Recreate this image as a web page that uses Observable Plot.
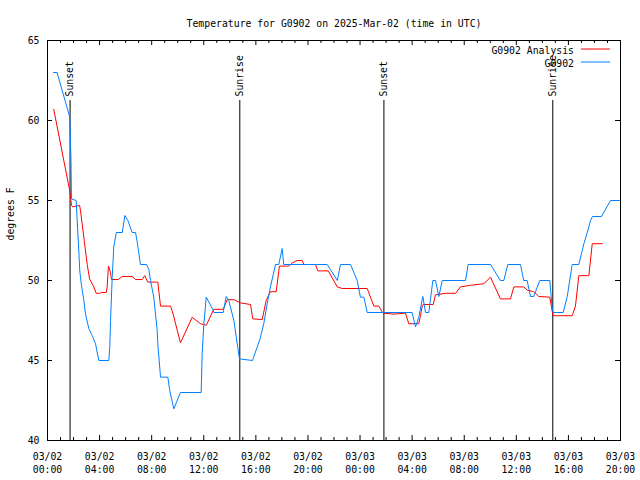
<!DOCTYPE html>
<html><head><meta charset="utf-8">
<script src="https://cdn.jsdelivr.net/npm/d3@7"></script>
<script src="https://cdn.jsdelivr.net/npm/@observablehq/plot@0.6"></script>
<style>body{margin:0;background:#fff}</style>
</head><body><div id="chart"></div>
<script>
const title = "Temperature for G0902 on 2025-Mar-02 (time in UTC)";
const yLabel = "degrees F";
const seriesNames = ["G0902 Analysis", "G0902"];
const seriesColors = ["#ff0000", "#0080ff"];
const startTime = "2025-03-02T00:00:00Z";
const endTime = "2025-03-03T20:00:00Z";
const yTicks = [40, 45, 50, 55, 60, 65];

// hours since start, temperature (F)
const analysisHours = [0.48,1.71,1.84,1.94,2.46,2.53,3.05,3.23,3.56,3.74,4.02,4.15,4.51,4.58,4.68,4.84,4.91,5.43,5.74,6.50,6.76,7.27,7.47,7.70,8.47,8.68,9.45,9.65,10.21,11.11,11.75,12.19,12.77,13.49,13.80,14.31,14.82,15.59,15.76,16.49,16.79,17.12,17.56,17.81,18.53,18.79,19.17,19.56,19.68,20.58,20.76,21.56,22.25,22.63,24.55,25.06,25.44,25.75,26.59,27.49,27.74,28.51,28.64,28.77,28.85,29.62,29.79,30.56,31.33,31.71,32.48,33.50,34.02,34.78,35.55,35.81,36.57,36.83,37.34,37.73,38.57,38.75,38.83,40.29,40.54,40.80,41.57,41.83,42.60];
const analysisTemps = [60.7,55.6,54.7,54.6,54.7,54.4,51.0,50.1,49.6,49.2,49.2,49.25,49.25,49.6,50.9,50.5,50.06,50.06,50.25,50.25,50.06,50.06,50.3,49.9,49.9,48.4,48.4,47.9,46.1,47.7,47.3,47.2,48.2,48.2,48.8,48.8,48.6,48.5,47.6,47.56,48.75,49.3,49.3,50.9,50.9,51.1,51.25,51.25,51.0,51.0,50.6,50.6,49.6,49.5,49.5,48.4,48.4,47.96,47.9,47.96,47.3,47.3,47.8,48.4,48.5,48.5,49.1,49.2,49.2,49.6,49.7,49.8,50.2,48.85,48.85,49.6,49.6,49.4,49.3,49.0,48.96,48.1,47.8,47.8,48.4,50.3,50.3,52.3,52.3];

const obsHours = [0.46,0.74,1.71,1.80,1.84,2.20,2.28,2.40,2.48,2.59,2.79,2.92,3.17,3.43,3.69,3.94,4.71,4.78,4.84,4.97,5.09,5.28,5.74,5.94,6.17,6.50,6.76,6.89,7.14,7.60,7.78,7.91,8.16,8.42,8.47,8.68,9.24,9.39,9.70,10.21,11.80,11.88,12.00,12.19,12.69,12.77,13.49,13.72,13.92,14.31,14.74,15.74,16.30,16.61,16.87,17.12,17.51,17.76,18.02,18.14,21.48,22.25,22.50,23.27,23.78,24.03,24.29,24.55,28.00,28.26,28.51,28.82,29.03,29.28,29.59,29.80,30.05,30.31,32.10,32.30,34.02,34.78,35.04,35.35,36.32,36.57,36.83,37.09,37.34,37.80,38.57,38.75,38.83,39.60,39.91,40.29,40.80,41.19,41.45,41.70,41.85,42.54,43.23,44.0];
const obsTemps = [63,63,60.2,57.6,55.1,55.0,53.75,51.9,50.6,49.8,48.75,47.9,47.0,46.56,46.04,45.0,45.0,45.8,47.5,50.2,52.1,53.0,53.0,54.06,53.75,53.0,53.0,52.4,51.0,51.0,50.7,50.0,48.96,46.9,46.04,43.96,43.96,43.1,41.98,43.0,43.0,45.5,47.2,48.96,48.2,48.0,48.0,49.0,48.75,47.5,45.1,45.0,46.3,47.3,48.56,49.6,51.0,51.0,52.0,51.0,51.0,50.0,51.0,51.0,50.0,48.96,48.96,48.0,48.0,47.1,47.7,49.0,48.0,48.0,50.0,50.0,49.0,50.0,50.0,51.0,51.0,50.0,50.0,51.0,51.0,50.0,50.0,49.0,49.0,50.0,50.0,48.3,48.0,48.0,49.0,51.0,51.0,52.3,53.0,53.75,54.0,54.0,55.0,55.0];

const sunEvents = ["Sunset", "Sunrise", "Sunset", "Sunrise"];
const sunTimes = ["2025-03-02T01:44:00Z", "2025-03-02T14:46:00Z", "2025-03-03T01:50:00Z", "2025-03-03T14:48:00Z"];

const W = 640, H = 480, mL = 47, mR = 20, mT = 40, mB = 40;
const t0 = new Date(startTime), t1 = new Date(endTime);
const toDate = h => new Date(t0.getTime() + h * 3600000);
const analysis = analysisHours.map((h, i) => ({t: toDate(h), v: analysisTemps[i]}));
const obs = obsHours.map((h, i) => ({t: toDate(h), v: obsTemps[i]}));
const sun = sunEvents.map((s, i) => ({label: s, t: new Date(sunTimes[i])}));

const yPerPx = (yTicks[yTicks.length - 1] - yTicks[0]) / (H - mT - mB);
const msPerPx = (t1 - t0) / (W - mL - mR);
const yMin = yTicks[0], yMax = yTicks[yTicks.length - 1];
const majorX = d3.utcHour.every(4).range(t0, new Date(+t1 + 1));
const minorX = d3.utcHour.range(t0, new Date(+t1 + 1)).filter(d => d.getUTCHours() % 4 !== 0);
const majLen = 5, minLen = 3;
const fmt = d3.utcFormat("%m/%d\n%H:%M");

const legendMark = (...args) => {
  const dims = args.find(a => a && typeof a === "object" && "marginLeft" in a && "width" in a);
  const g = d3.create("svg:g");
  const xr = dims.width - dims.marginRight;
  seriesNames.forEach((name, i) => {
    const y = 49 + i * 13;
    g.append("line").attr("x1", xr - 39).attr("x2", xr - 10).attr("y1", y).attr("y2", y)
      .attr("stroke", seriesColors[i]).attr("stroke-width", 1);
    g.append("text").attr("x", xr - 46).attr("y", y + 1.5).attr("dy", "0.35em")
      .attr("text-anchor", "end").attr("fill", "black").text(name);
  });
  return g.node();
};

const chart = Plot.plot({
  width: W, height: H,
  marginLeft: mL, marginRight: mR, marginTop: mT, marginBottom: mB,
  style: {fontFamily: "DejaVu Sans Mono", fontSize: "9.8px", background: "white", color: "black"},
  x: {type: "utc", domain: [t0, t1], axis: null},
  y: {domain: [yMin, yMax], axis: null},
  marks: [
    Plot.ruleX(majorX, {x: d => d, y1: yMin, y2: yMin + majLen * yPerPx, stroke: "black"}),
    Plot.ruleX(majorX, {x: d => d, y1: yMax, y2: yMax - majLen * yPerPx, stroke: "black"}),
    Plot.ruleX(minorX, {x: d => d, y1: yMin, y2: yMin + minLen * yPerPx, stroke: "black"}),
    Plot.ruleX(minorX, {x: d => d, y1: yMax, y2: yMax - minLen * yPerPx, stroke: "black"}),
    Plot.ruleY(yTicks, {y: d => d, x1: t0, x2: new Date(+t0 + majLen * msPerPx), stroke: "black"}),
    Plot.ruleY(yTicks, {y: d => d, x1: t1, x2: new Date(+t1 - majLen * msPerPx), stroke: "black"}),
    Plot.ruleX(sun, {x: "t", y1: yMin, y2: yMax - 60 * yPerPx, stroke: "black"}),
    Plot.text(sun, {x: "t", y: yMax - 56 * yPerPx, text: "label", rotate: -90, textAnchor: "start", lineAnchor: "middle", fill: "black"}),
    Plot.line(analysis, {x: "t", y: "v", stroke: seriesColors[0], strokeWidth: 1, curve: "linear"}),
    Plot.line(obs, {x: "t", y: "v", stroke: seriesColors[1], strokeWidth: 1, curve: "linear"}),
    Plot.frame({stroke: "black"}),
    Plot.text(majorX, {x: d => d, frameAnchor: "bottom", dy: 10, text: d => fmt(d), lineAnchor: "top", lineHeight: 1.33, fill: "black"}),
    Plot.text(yTicks, {y: d => d, frameAnchor: "left", dx: -8, textAnchor: "end", text: d => String(d), fill: "black"}),
    Plot.text([yLabel], {frameAnchor: "left", dx: -37, rotate: -90, text: d => d, fill: "black"}),
    Plot.text([title], {frameAnchor: "top", dy: -20, text: d => d, fill: "black"}),
    legendMark
  ]
});
document.getElementById("chart").appendChild(chart);
</script>
</body></html>
